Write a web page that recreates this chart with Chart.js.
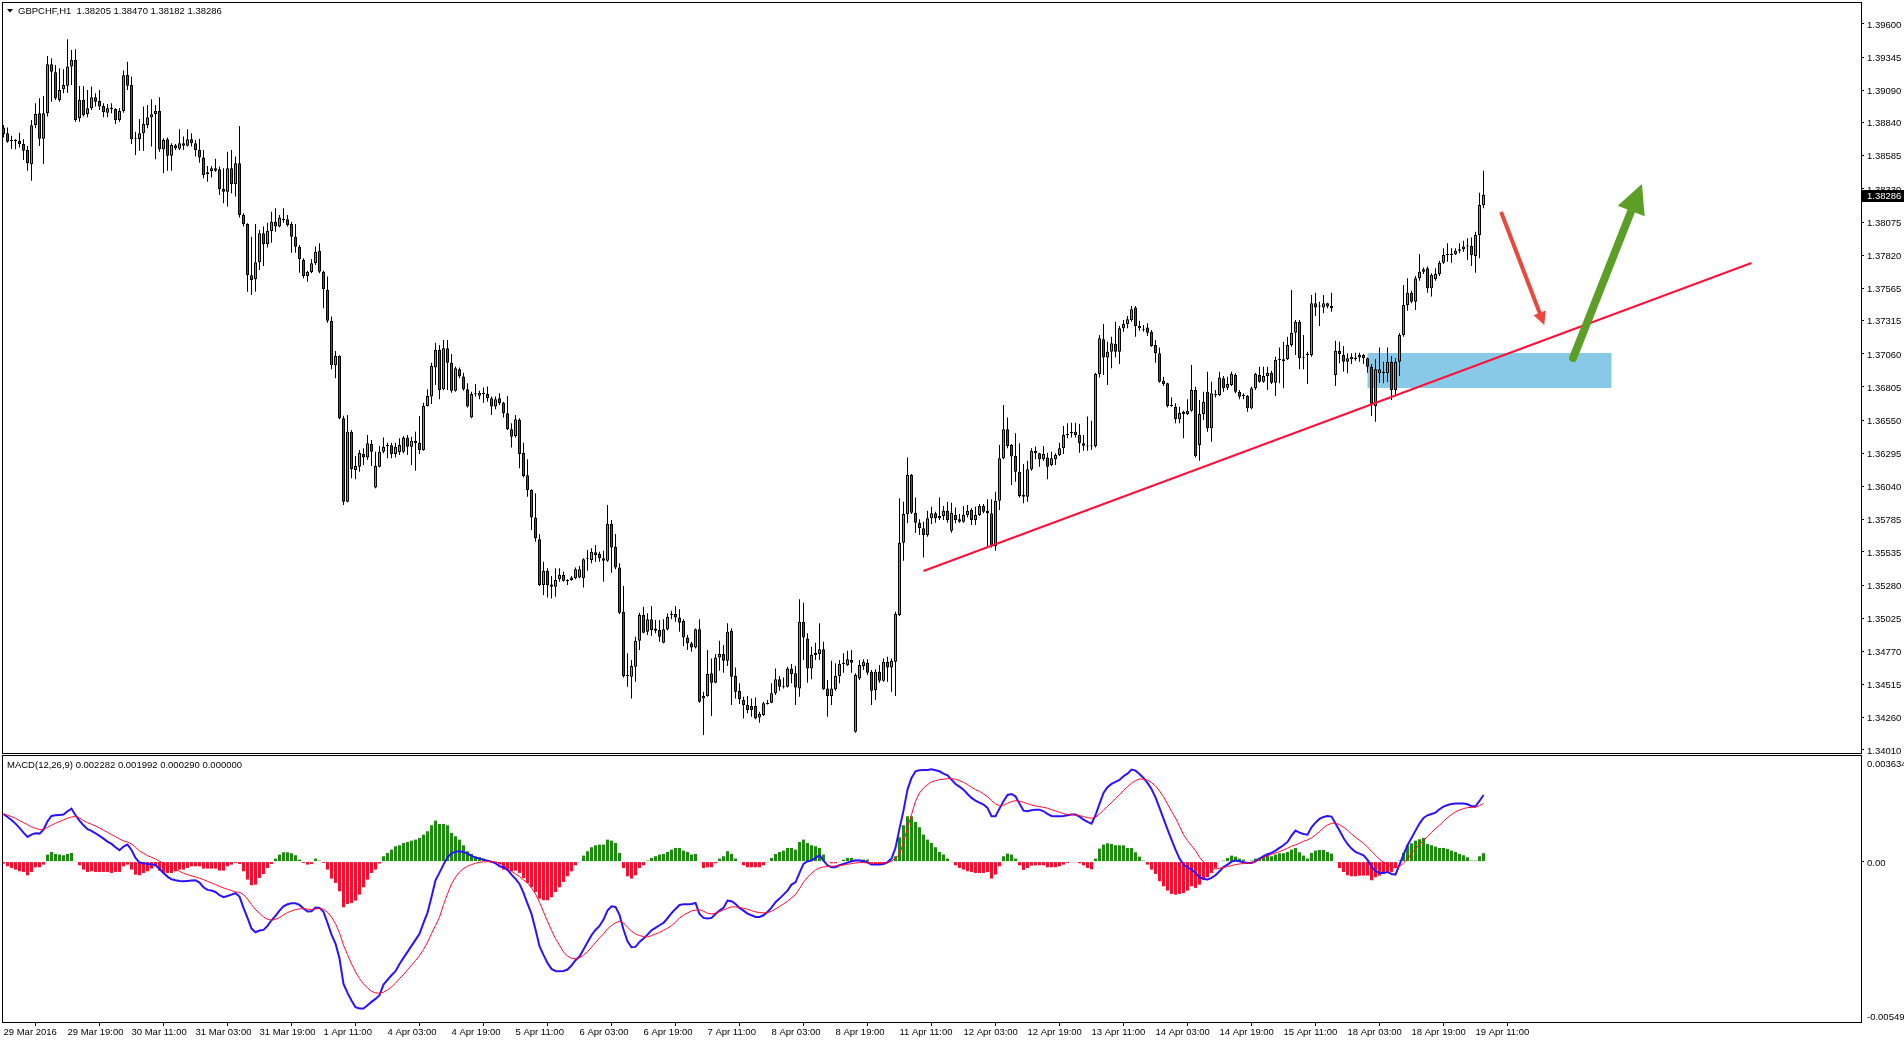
<!DOCTYPE html>
<html>
<head>
<meta charset="utf-8">
<title>GBPCHF,H1 with MACD(12,26,9)</title>
<script src="https://cdn.jsdelivr.net/npm/chart.js"></script>
<style>
  html, body { margin:0; padding:0; background:#ffffff; overflow:hidden; }
  #wrap { position:relative; width:1904px; height:1043px; background:#fff; }
  canvas { position:absolute; left:0; display:block; }
  #priceCanvas { top:0; }
  #macdCanvas { top:755px; }
</style>
</head>
<body>
<div id="wrap">
  <canvas id="priceCanvas" width="1904" height="755"></canvas>
  <canvas id="macdCanvas" width="1904" height="288"></canvas>
</div>
<script>
// ---------------- DATA ----------------
const symbol = 'GBPCHF,H1';
const macdName = 'MACD(12,26,9)';

const opens = [1.38804,1.38758,1.38702,1.38702,1.38699,1.38676,1.38630,1.38520,1.38820,1.38912,
1.38717,1.38912,1.39290,1.39228,1.39015,1.39097,1.39125,1.39272,1.39323,1.38874,
1.39015,1.38907,1.38951,1.39036,1.39007,1.38969,1.38917,1.38948,1.38946,1.38861,
1.38930,1.39207,1.39131,1.38720,1.38715,1.38758,1.38822,1.38882,1.38907,1.38930,
1.38635,1.38712,1.38586,1.38666,1.38640,1.38681,1.38663,1.38712,1.38681,1.38630,
1.38573,1.38443,1.38466,1.38489,1.38481,1.38330,1.38309,1.38489,1.38368,1.38527,
1.38129,1.38060,1.37665,1.37634,1.37765,1.37988,1.37906,1.38006,1.38078,1.38040,
1.38096,1.38096,1.38060,1.37962,1.37885,1.37783,1.37660,1.37691,1.37757,1.37855,
1.37693,1.37552,1.37316,1.36972,1.37044,1.36564,1.35922,1.36461,1.36166,1.36191,
1.36289,1.36263,1.36366,1.36032,1.36191,1.36307,1.36351,1.36356,1.36289,1.36304,
1.36307,1.36417,1.36345,1.36392,1.36376,1.36320,1.36659,1.36731,1.36956,1.37090,
1.36787,1.37103,1.36992,1.36777,1.36941,1.36885,1.36787,1.36571,1.36751,1.36738,
1.36761,1.36751,1.36718,1.36654,1.36718,1.36684,1.36602,1.36479,1.36428,1.36551,
1.36299,1.36125,1.36012,1.35801,1.35632,1.35280,1.35391,1.35285,1.35267,1.35324,
1.35357,1.35314,1.35319,1.35332,1.35339,1.35332,1.35478,1.35473,1.35532,1.35519,
1.35486,1.35468,1.35750,1.35575,1.35416,1.35075,1.34579,1.34574,1.34651,1.34851,
1.35049,1.34921,1.35016,1.34946,1.34934,1.34836,1.34939,1.35049,1.35057,1.35031,
1.35005,1.34877,1.34831,1.34800,1.34939,1.34407,1.34425,1.34600,1.34528,1.34723,
1.34749,1.34697,1.34929,1.34579,1.34466,1.34395,1.34356,1.34348,1.34348,1.34261,
1.34279,1.34364,1.34374,1.34446,1.34554,1.34497,1.34497,1.34638,1.34600,1.34484,
1.34998,1.34869,1.34638,1.34741,1.34749,1.34785,1.34484,1.34425,1.34477,1.34579,
1.34672,1.34664,1.34703,1.34151,1.34561,1.34656,1.34682,1.34613,1.34472,1.34613,
1.34543,1.34690,1.34646,1.34690,1.35049,1.35606,1.35827,1.36127,1.35837,1.35760,
1.35717,1.35665,1.35794,1.35832,1.35794,1.35812,1.35853,1.35699,1.35819,1.35786,
1.35768,1.35819,1.35858,1.35781,1.35819,1.35889,1.35853,1.35832,1.35581,1.35930,
1.36256,1.36479,1.36358,1.36274,1.36153,1.35973,1.35960,1.36171,1.36315,1.36294,
1.36248,1.36263,1.36204,1.36248,1.36281,1.36333,1.36435,1.36448,1.36461,1.36435,
1.36371,1.36353,1.36346,1.36351,1.36905,1.37172,1.37033,1.37077,1.37136,1.37077,
1.37257,1.37290,1.37321,1.37418,1.37275,1.37249,1.37264,1.37231,1.37128,1.37064,
1.36854,1.36833,1.36666,1.36653,1.36556,1.36615,1.36597,1.36623,1.36782,1.36358,
1.36597,1.36769,1.36487,1.36743,1.36743,1.36872,1.36800,1.36820,1.36897,1.36769,
1.36736,1.36736,1.36641,1.36795,1.36897,1.36846,1.36890,1.36915,1.36838,1.37013,
1.37003,1.37018,1.37128,1.37223,1.37308,1.37033,1.37051,1.37051,1.37449,1.37424,
1.37418,1.37449,1.37429,1.36897,1.37085,1.37051,1.37000,1.37018,1.37018,1.37033,
1.37051,1.37026,1.36961,1.36659,1.36910,1.36910,1.36910,1.37000,1.36782,1.37000,
1.37205,1.37436,1.37531,1.37462,1.37642,1.37693,1.37719,1.37565,1.37634,1.37675,
1.37762,1.37821,1.37821,1.37827,1.37855,1.37865,1.37886,1.37891,1.37814,1.37975,
1.38205];

const highs = [1.38822,1.38804,1.38740,1.38712,1.38763,1.38712,1.38661,1.38861,1.38989,1.39028,
1.39046,1.39354,1.39336,1.39285,1.39259,1.39251,1.39482,1.39400,1.39405,1.39123,
1.39123,1.39092,1.39118,1.39066,1.39092,1.38989,1.38984,1.38989,1.38951,1.38951,
1.39241,1.39310,1.39195,1.38771,1.38869,1.38964,1.38976,1.39020,1.38976,1.39036,
1.38720,1.38727,1.38681,1.38676,1.38789,1.38733,1.38789,1.38758,1.38707,1.38717,
1.38630,1.38507,1.38507,1.38563,1.38502,1.38489,1.38617,1.38630,1.38579,1.38815,
1.38142,1.38065,1.37962,1.38060,1.38014,1.38040,1.38070,1.38155,1.38181,1.38129,
1.38181,1.38129,1.38078,1.38060,1.37898,1.37796,1.37701,1.37788,1.37886,1.37911,
1.37701,1.37655,1.37347,1.37082,1.37049,1.36584,1.36589,1.36474,1.36274,1.36320,
1.36333,1.36435,1.36397,1.36307,1.36351,1.36417,1.36376,1.36376,1.36376,1.36410,
1.36428,1.36435,1.36422,1.36461,1.36582,1.36684,1.36787,1.36992,1.37146,1.37128,
1.37167,1.37167,1.37059,1.36962,1.36956,1.36915,1.36833,1.36769,1.36828,1.36777,
1.36802,1.36808,1.36731,1.36731,1.36756,1.36692,1.36736,1.36525,1.36589,1.36564,
1.36376,1.36248,1.36017,1.35986,1.35673,1.35460,1.35409,1.35349,1.35409,1.35409,
1.35383,1.35324,1.35349,1.35416,1.35426,1.35486,1.35550,1.35563,1.35588,1.35537,
1.35545,1.35896,1.35781,1.35673,1.35447,1.35272,1.34754,1.34703,1.34882,1.35067,
1.35113,1.35062,1.35118,1.35011,1.35011,1.35016,1.35062,1.35082,1.35118,1.35093,
1.35016,1.34895,1.34844,1.34946,1.35016,1.34459,1.34780,1.34715,1.34749,1.34852,
1.34818,1.34985,1.34947,1.34646,1.34523,1.34420,1.34425,1.34407,1.34415,1.34305,
1.34382,1.34395,1.34523,1.34638,1.34579,1.34569,1.34651,1.34672,1.34656,1.35170,
1.35144,1.34908,1.34805,1.34836,1.34985,1.34844,1.34549,1.34697,1.34677,1.34703,
1.34754,1.34775,1.34780,1.34600,1.34703,1.34708,1.34708,1.34626,1.34631,1.34664,
1.34715,1.34728,1.34715,1.35075,1.35948,1.35922,1.36263,1.36135,1.35955,1.35786,
1.35768,1.35853,1.35883,1.35845,1.35955,1.35889,1.35922,1.35914,1.35878,1.35827,
1.35889,1.35896,1.35871,1.35883,1.35904,1.35904,1.35940,1.35940,1.35999,1.36358,
1.36666,1.36571,1.36366,1.36448,1.36371,1.36212,1.36238,1.36333,1.36346,1.36299,
1.36351,1.36299,1.36307,1.36294,1.36376,1.36505,1.36525,1.36530,1.36530,1.36520,
1.36435,1.36577,1.36546,1.36915,1.37205,1.37290,1.37154,1.37192,1.37308,1.37275,
1.37321,1.37352,1.37429,1.37429,1.37316,1.37282,1.37295,1.37244,1.37167,1.37110,
1.36884,1.36838,1.36725,1.36679,1.36653,1.36623,1.36710,1.36974,1.36807,1.36705,
1.36769,1.36923,1.36846,1.36782,1.36923,1.36890,1.36884,1.36923,1.36910,1.36782,
1.36756,1.36743,1.36807,1.36915,1.36961,1.36961,1.36961,1.36931,1.37038,1.37110,
1.37154,1.37192,1.37552,1.37321,1.37321,1.37205,1.37077,1.37513,1.37531,1.37462,
1.37513,1.37454,1.37531,1.37162,1.37154,1.37121,1.37064,1.37064,1.37069,1.37069,
1.37059,1.37033,1.36982,1.37018,1.37110,1.37000,1.37110,1.37044,1.37026,1.37218,
1.37590,1.37642,1.37547,1.37660,1.37829,1.37726,1.37732,1.37680,1.37719,1.37778,
1.37873,1.37911,1.37873,1.37873,1.37911,1.37932,1.37950,1.37957,1.38001,1.38301,
1.38470];

const lows = [1.38727,1.38686,1.38638,1.38635,1.38650,1.38553,1.38471,1.38394,1.38797,1.38661,
1.38522,1.38887,1.39002,1.39015,1.39002,1.39066,1.39071,1.39131,1.38848,1.38848,
1.38887,1.38882,1.38938,1.38964,1.38938,1.38882,1.38882,1.38912,1.38830,1.38848,
1.38917,1.39092,1.38676,1.38591,1.38625,1.38622,1.38797,1.38656,1.38558,1.38617,
1.38450,1.38471,1.38471,1.38630,1.38630,1.38630,1.38656,1.38656,1.38579,1.38532,
1.38412,1.38386,1.38419,1.38463,1.38283,1.38219,1.38194,1.38296,1.38271,1.38111,
1.38040,1.37539,1.37513,1.37539,1.37706,1.37737,1.37880,1.37916,1.38001,1.38035,
1.38070,1.38040,1.37839,1.37839,1.37685,1.37642,1.37616,1.37680,1.37744,1.37680,
1.37411,1.37300,1.36941,1.36872,1.36556,1.35896,1.35917,1.36102,1.36094,1.36153,
1.36204,1.36243,1.36197,1.36025,1.36186,1.36294,1.36256,1.36256,1.36263,1.36281,
1.36294,1.36281,1.36204,1.36161,1.36289,1.36315,1.36654,1.36674,1.36820,1.36710,
1.36780,1.36782,1.36761,1.36769,1.36872,1.36777,1.36648,1.36565,1.36731,1.36710,
1.36684,1.36692,1.36589,1.36633,1.36666,1.36571,1.36474,1.36340,1.36417,1.36179,
1.36109,1.35960,1.35704,1.35614,1.35272,1.35203,1.35185,1.35177,1.35190,1.35306,
1.35306,1.35280,1.35314,1.35324,1.35332,1.35262,1.35391,1.35447,1.35460,1.35460,
1.35306,1.35460,1.35375,1.35401,1.35057,1.34569,1.34497,1.34407,1.34536,1.34780,
1.34908,1.34895,1.34887,1.34908,1.34844,1.34831,1.34930,1.35016,1.34998,1.34921,
1.34810,1.34780,1.34767,1.34792,1.34374,1.34125,1.34420,1.34271,1.34523,1.34620,
1.34605,1.34656,1.34356,1.34407,1.34364,1.34253,1.34292,1.34266,1.34246,1.34220,
1.34271,1.34360,1.34369,1.34433,1.34466,1.34484,1.34492,1.34523,1.34356,1.34420,
1.34703,1.34528,1.34554,1.34703,1.34703,1.34472,1.34266,1.34356,1.34466,1.34523,
1.34605,1.34656,1.34605,1.34143,1.34549,1.34626,1.34587,1.34356,1.34395,1.34528,
1.34536,1.34536,1.34459,1.34425,1.35042,1.35468,1.35755,1.35827,1.35683,1.35665,
1.35493,1.35652,1.35750,1.35760,1.35781,1.35781,1.35760,1.35683,1.35755,1.35760,
1.35760,1.35801,1.35742,1.35742,1.35812,1.35832,1.35575,1.35570,1.35545,1.35858,
1.36248,1.36333,1.36050,1.36076,1.35955,1.35909,1.35922,1.36161,1.36248,1.36191,
1.36238,1.36094,1.36197,1.36204,1.36274,1.36289,1.36410,1.36417,1.36417,1.36299,
1.36315,1.36315,1.36320,1.36340,1.36879,1.36897,1.36820,1.36949,1.37033,1.36982,
1.37231,1.37257,1.37308,1.37192,1.37239,1.37231,1.37198,1.37115,1.36992,1.36838,
1.36813,1.36648,1.36653,1.36525,1.36525,1.36410,1.36589,1.36615,1.36263,1.36238,
1.36551,1.36461,1.36384,1.36725,1.36736,1.36769,1.36782,1.36813,1.36756,1.36710,
1.36710,1.36615,1.36633,1.36782,1.36838,1.36838,1.36782,1.36828,1.36736,1.36833,
1.36795,1.37013,1.37115,1.37051,1.36941,1.36941,1.36828,1.37038,1.37352,1.37275,
1.37372,1.37411,1.37385,1.36813,1.36987,1.36923,1.36910,1.36982,1.37008,1.37000,
1.36982,1.36915,1.36582,1.36538,1.36838,1.36833,1.36846,1.36705,1.36743,1.36890,
1.37192,1.37393,1.37449,1.37398,1.37624,1.37675,1.37531,1.37501,1.37624,1.37660,
1.37752,1.37770,1.37762,1.37821,1.37834,1.37847,1.37783,1.37737,1.37685,1.37796,
1.38182];

const closes = [1.38753,1.38694,1.38699,1.38699,1.38676,1.38625,1.38527,1.38820,1.38907,1.38717,
1.38912,1.39290,1.39233,1.39028,1.39092,1.39131,1.39272,1.39323,1.38861,1.39015,
1.38897,1.38951,1.39036,1.39002,1.38964,1.38920,1.38951,1.38946,1.38861,1.38930,
1.39205,1.39125,1.38712,1.38712,1.38758,1.38830,1.38882,1.38905,1.38933,1.38635,
1.38707,1.38586,1.38668,1.38643,1.38681,1.38663,1.38712,1.38681,1.38630,1.38573,
1.38437,1.38458,1.38489,1.38471,1.38327,1.38309,1.38489,1.38368,1.38527,1.38129,
1.38060,1.37665,1.37629,1.37765,1.37988,1.37906,1.38009,1.38078,1.38040,1.38111,
1.38091,1.38052,1.37962,1.37885,1.37788,1.37660,1.37691,1.37757,1.37847,1.37693,
1.37557,1.37316,1.36972,1.37044,1.36564,1.35922,1.36461,1.36171,1.36197,1.36299,
1.36263,1.36371,1.36307,1.36197,1.36307,1.36345,1.36352,1.36289,1.36345,1.36358,
1.36417,1.36345,1.36392,1.36371,1.36320,1.36659,1.36736,1.36967,1.37090,1.36782,
1.37103,1.36992,1.36777,1.36949,1.36885,1.36787,1.36654,1.36751,1.36750,1.36761,
1.36751,1.36718,1.36654,1.36710,1.36679,1.36602,1.36479,1.36422,1.36556,1.36289,
1.36120,1.36012,1.35801,1.35640,1.35280,1.35391,1.35280,1.35267,1.35319,1.35357,
1.35314,1.35312,1.35339,1.35401,1.35401,1.35478,1.35480,1.35537,1.35511,1.35486,
1.35468,1.35750,1.35570,1.35416,1.35067,1.34579,1.34582,1.34656,1.34851,1.35049,
1.34913,1.35016,1.34934,1.34928,1.34882,1.34939,1.35036,1.35052,1.35031,1.34990,
1.34877,1.34831,1.34800,1.34939,1.34382,1.34425,1.34595,1.34528,1.34723,1.34749,
1.34697,1.34921,1.34574,1.34459,1.34400,1.34356,1.34318,1.34318,1.34253,1.34287,
1.34369,1.34374,1.34446,1.34554,1.34497,1.34500,1.34638,1.34595,1.34492,1.34998,
1.34877,1.34638,1.34741,1.34759,1.34785,1.34477,1.34425,1.34484,1.34579,1.34672,
1.34677,1.34708,1.34682,1.34587,1.34664,1.34690,1.34605,1.34466,1.34613,1.34543,
1.34690,1.34646,1.34697,1.35057,1.35606,1.35827,1.36127,1.35837,1.35760,1.35717,
1.35665,1.35794,1.35832,1.35794,1.35812,1.35853,1.35781,1.35837,1.35781,1.35768,
1.35819,1.35853,1.35781,1.35819,1.35889,1.35845,1.35832,1.35581,1.35930,1.36256,
1.36479,1.36351,1.36269,1.36153,1.35966,1.35960,1.36171,1.36315,1.36294,1.36248,
1.36289,1.36191,1.36256,1.36281,1.36333,1.36435,1.36443,1.36461,1.36435,1.36371,
1.36353,1.36346,1.36351,1.36905,1.37180,1.37033,1.37077,1.37141,1.37077,1.37257,
1.37290,1.37326,1.37403,1.37275,1.37257,1.37246,1.37223,1.37121,1.37064,1.36846,
1.36828,1.36659,1.36659,1.36556,1.36607,1.36597,1.36623,1.36782,1.36274,1.36597,
1.36692,1.36487,1.36756,1.36751,1.36879,1.36795,1.36828,1.36905,1.36769,1.36730,
1.36737,1.36641,1.36795,1.36905,1.36846,1.36890,1.36915,1.36838,1.37013,1.37014,
1.37018,1.37128,1.37223,1.37308,1.37026,1.37026,1.37052,1.37449,1.37418,1.37425,
1.37449,1.37424,1.37411,1.37085,1.37059,1.37000,1.37026,1.37038,1.37033,1.37051,
1.37026,1.36961,1.36666,1.36941,1.36941,1.36923,1.37000,1.36782,1.37000,1.37205,
1.37436,1.37531,1.37462,1.37642,1.37693,1.37711,1.37565,1.37667,1.37675,1.37762,
1.37821,1.37822,1.37827,1.37855,1.37865,1.37886,1.37891,1.37821,1.37975,1.38206,
1.38286];

const macdMain = [0.001632,0.001529,0.001427,0.001301,0.001153,0.000993,0.000845,0.000924,0.000970,0.000959,
0.001096,0.001381,0.001564,0.001586,0.001598,0.001609,0.001723,0.001815,0.001586,0.001404,
0.001244,0.001107,0.001050,0.000970,0.000879,0.000788,0.000685,0.000605,0.000491,0.000388,
0.000514,0.000582,0.000399,0.000126,-0.000034,-0.000057,-0.000080,-0.000091,-0.000114,-0.000251,
-0.000388,-0.000514,-0.000605,-0.000639,-0.000662,-0.000673,-0.000662,-0.000651,-0.000639,-0.000719,
-0.000879,-0.000970,-0.000993,-0.001039,-0.001153,-0.001221,-0.001176,-0.001130,-0.001084,-0.001198,
-0.001586,-0.001929,-0.002294,-0.002420,-0.002363,-0.002340,-0.002203,-0.002009,-0.001860,-0.001678,
-0.001529,-0.001461,-0.001427,-0.001427,-0.001484,-0.001609,-0.001712,-0.001701,-0.001575,-0.001586,
-0.001723,-0.002100,-0.002500,-0.002808,-0.003321,-0.004189,-0.004497,-0.004759,-0.004988,-0.005033,
-0.005033,-0.004919,-0.004805,-0.004702,-0.004577,-0.004212,-0.004052,-0.003892,-0.003755,-0.003504,
-0.003298,-0.003093,-0.002888,-0.002682,-0.002477,-0.002100,-0.001746,-0.001210,-0.000639,-0.000377,
-0.000103,0.000148,0.000285,0.000342,0.000354,0.000331,0.000274,0.000194,0.000137,0.000103,
0.000068,0.000034,0,-0.000057,-0.000160,
-0.000194,-0.000274,-0.000445,-0.000594,-0.000765,
-0.001073,-0.001438,-0.001792,-0.002328,-0.002899,-0.003196,-0.003470,-0.003675,-0.003744,-0.003755,
-0.003744,-0.003698,-0.003561,-0.003378,-0.003253,-0.003013,-0.002762,-0.002522,-0.002340,-0.002203,
-0.001986,-0.001678,-0.001529,-0.001552,-0.001826,-0.002328,-0.002728,-0.002933,-0.002922,-0.002751,
-0.002637,-0.002500,-0.002351,-0.002271,-0.002180,-0.002100,-0.001940,-0.001769,-0.001621,-0.001484,
-0.001461,-0.001461,-0.001450,-0.001415,-0.001792,-0.001929,-0.001952,-0.001929,-0.001792,-0.001678,
-0.001586,-0.001335,-0.001358,-0.001450,-0.001586,-0.001678,-0.001781,-0.001838,-0.001895,-0.001895,
-0.001838,-0.001723,-0.001575,-0.001392,-0.001267,-0.001130,-0.000993,-0.000788,-0.000708,-0.000388,
-0.000080,0.000011,0.000034,0.000126,0.000217,0.000034,-0.000126,-0.000194,-0.000194,-0.000126,
-0.000080,-0.000034,0.000011,0.000034,0.000034,0.000011,-0.000023,-0.000103,-0.000103,-0.000103,
-0.000080,-0.000023,0.000103,0.000468,0.001130,0.001746,0.002465,0.002865,0.003093,0.003127,
0.003139,0.003139,0.003162,0.003127,0.003093,0.003013,0.002956,0.002808,0.002659,0.002568,
0.002465,0.002317,0.002180,0.002089,0.002020,0.001952,0.001838,0.001552,0.001552,0.001815,
0.002066,0.002283,0.002317,0.002237,0.001986,0.001746,0.001723,0.001758,0.001780,0.001780,
0.001723,0.001632,0.001564,0.001552,0.001552,0.001564,0.001586,0.001609,0.001609,0.001541,
0.001438,0.001358,0.001301,0.001586,0.001975,0.002351,0.002545,0.002659,0.002728,0.002796,
0.002922,0.003013,0.003150,0.003116,0.003002,0.002865,0.002694,0.002488,0.002203,0.001838,
0.001472,0.001107,0.000753,0.000411,0.000103,-0.000103,-0.000194,-0.000274,-0.000388,-0.000536,
-0.000594,-0.000616,-0.000559,-0.000468,-0.000331,-0.000183,-0.000103,0,0.000034,0.000011,
-0.000023,-0.000046,-0.000046,0.000011,0.000103,0.000183,0.000251,0.000297,0.000377,0.000468,
0.000559,0.000673,0.000890,0.001061,0.000993,0.000947,0.000924,0.001176,0.001335,0.001461,
0.001529,0.001564,0.001541,0.001301,0.001061,0.000810,0.000605,0.000445,0.000331,0.000274,
0.000217,0.000057,-0.000171,-0.000331,-0.000388,-0.000388,-0.000354,-0.000422,-0.000445,-0.000103,
0.000240,0.000559,0.000810,0.001061,0.001301,0.001495,0.001586,0.001632,0.001678,0.001792,
0.001883,0.001940,0.001975,0.001986,0.001986,0.001986,0.001963,0.001895,0.001895,0.002077,
0.002282];

const macdSignal = [0.001632,0.001586,0.001541,0.001484,0.001404,0.001335,0.001267,0.001187,0.001141,0.001096,
0.001107,0.001176,0.001244,0.001313,0.001370,0.001427,0.001484,0.001529,0.001541,0.001495,
0.001404,0.001335,0.001278,0.001221,0.001153,0.001073,0.001004,0.000924,0.000856,0.000776,
0.000708,0.000673,0.000605,0.000491,0.000365,0.000285,0.000205,0.000148,0.000091,0.000011,
-0.000057,-0.000126,-0.000194,-0.000263,-0.000331,-0.000399,-0.000445,-0.000491,-0.000525,-0.000571,
-0.000616,-0.000673,-0.000730,-0.000788,-0.000845,-0.000902,-0.000947,-0.000993,-0.001039,-0.001050,
-0.001130,-0.001278,-0.001472,-0.001644,-0.001769,-0.001895,-0.001975,-0.002009,-0.001975,-0.001917,
-0.001826,-0.001746,-0.001689,-0.001644,-0.001621,-0.001609,-0.001632,-0.001644,-0.001621,-0.001609,
-0.001632,-0.001735,-0.001895,-0.002123,-0.002442,-0.002865,-0.003184,-0.003504,-0.003778,-0.004006,
-0.004189,-0.004326,-0.004440,-0.004497,-0.004508,-0.004474,-0.004394,-0.004291,-0.004166,-0.004006,
-0.003869,-0.003709,-0.003550,-0.003390,-0.003219,-0.003013,-0.002762,-0.002465,-0.002191,-0.001906,
-0.001472,-0.001107,-0.000765,-0.000536,-0.000354,-0.000240,-0.000160,-0.000103,-0.000057,-0.000023,
-0.000011,0,0,-0.000011,-0.000046,
-0.000103,-0.000240,-0.000331,-0.000422,-0.000514,
-0.000628,-0.000730,-0.000902,-0.001107,-0.001392,-0.001723,-0.002043,-0.002351,-0.002637,-0.002865,
-0.003093,-0.003241,-0.003310,-0.003321,-0.003298,-0.003207,-0.003093,-0.002933,-0.002773,-0.002614,
-0.002477,-0.002306,-0.002191,-0.002100,-0.002043,-0.002100,-0.002248,-0.002385,-0.002477,-0.002534,
-0.002568,-0.002579,-0.002534,-0.002477,-0.002431,-0.002351,-0.002283,-0.002191,-0.002077,-0.001929,
-0.001838,-0.001758,-0.001689,-0.001666,-0.001644,-0.001701,-0.001769,-0.001792,-0.001769,-0.001712,
-0.001655,-0.001598,-0.001552,-0.001552,-0.001575,-0.001598,-0.001632,-0.001678,-0.001723,-0.001746,
-0.001758,-0.001746,-0.001701,-0.001621,-0.001541,-0.001450,-0.001358,-0.001244,-0.001130,-0.000924,
-0.000708,-0.000536,-0.000399,-0.000285,-0.000217,-0.000183,-0.000171,-0.000160,-0.000148,-0.000137,
-0.000114,-0.000091,-0.000068,-0.000046,-0.000034,-0.000034,-0.000046,-0.000057,-0.000068,-0.000057,
-0.000046,-0.000034,0.000011,0.000126,0.000240,0.000673,0.001153,0.001609,0.002066,0.002351,
0.002522,0.002637,0.002728,0.002773,0.002808,0.002819,0.002842,0.002842,0.002819,0.002773,
0.002716,0.002637,0.002545,0.002465,0.002408,0.002317,0.002226,0.002089,0.001975,0.001917,
0.001929,0.001997,0.002054,0.002089,0.002066,0.002032,0.001986,0.001940,0.001906,0.001883,
0.001860,0.001826,0.001780,0.001735,0.001689,0.001644,0.001609,0.001609,0.001598,0.001575,
0.001541,0.001507,0.001484,0.001518,0.001632,0.001758,0.001895,0.002020,0.002157,0.002294,
0.002431,0.002568,0.002682,0.002773,0.002831,0.002819,0.002796,0.002705,0.002591,0.002420,
0.002226,0.001975,0.001723,0.001495,0.001210,0.000924,0.000719,0.000548,0.000377,0.000148,
-0.000011,-0.000137,-0.000217,-0.000251,-0.000228,-0.000205,-0.000171,-0.000137,-0.000103,-0.000080,
-0.000068,-0.000057,-0.000046,0,0.000068,0.000137,0.000194,0.000251,0.000297,0.000342,
0.000399,0.000457,0.000525,0.000571,0.000628,0.000696,0.000742,0.000810,0.000913,0.001027,
0.001153,0.001255,0.001313,0.001313,0.001267,0.001176,0.001073,0.000947,0.000833,0.000730,
0.000628,0.000502,0.000354,0.000217,0.000080,-0.000023,-0.000103,-0.000171,-0.000217,-0.000171,
-0.000057,0.000091,0.000285,0.000445,0.000582,0.000719,0.000856,0.000993,0.001130,0.001244,
0.001381,0.001507,0.001609,0.001701,0.001769,0.001815,0.001849,0.001860,0.001860,0.001917,
0.001992];

const macdHist = [-0.000068,-0.000160,-0.000217,-0.000274,-0.000331,-0.000354,-0.000468,-0.000354,-0.000194,-0.000194,
-0.000103,0.000240,0.000331,0.000263,0.000240,0.000217,0.000263,0.000297,0.000023,-0.000126,
-0.000274,-0.000354,-0.000331,-0.000354,-0.000354,-0.000354,-0.000354,-0.000388,-0.000354,-0.000354,
-0.000160,-0.000103,-0.000274,-0.000445,-0.000468,-0.000388,-0.000331,-0.000240,-0.000160,-0.000308,
-0.000388,-0.000388,-0.000388,-0.000331,-0.000274,-0.000274,-0.000217,-0.000160,-0.000160,-0.000160,
-0.000240,-0.000240,-0.000240,-0.000240,-0.000308,-0.000308,-0.000160,-0.000103,-0.000046,-0.000080,
-0.000331,-0.000616,-0.000810,-0.000788,-0.000559,-0.000422,-0.000217,-0.000080,0.000103,0.000240,
0.000320,0.000320,0.000285,0.000217,0.000068,-0.000046,-0.000103,-0.000080,0.000103,0.000034,
-0.000046,-0.000274,-0.000582,-0.000730,-0.001016,-0.001564,-0.001450,-0.001415,-0.001335,-0.001130,
-0.000879,-0.000616,-0.000388,-0.000274,-0.000068,0.000183,0.000297,0.000411,0.000525,0.000559,
0.000639,0.000673,0.000719,0.000753,0.000810,0.000924,0.001039,0.001244,0.001404,0.001290,
0.001290,0.001244,0.000982,0.000867,0.000753,0.000559,0.000354,0.000263,0.000183,0.000148,
0.000103,0.000034,-0.000046,-0.000080,-0.000103,
-0.000274,-0.000308,-0.000331,-0.000308,-0.000388,
-0.000559,-0.000730,-0.000879,-0.001039,-0.001267,-0.001324,-0.001324,-0.001221,-0.001039,-0.000879,
-0.000696,-0.000502,-0.000331,-0.000126,-0.000011,0.000205,0.000354,0.000491,0.000559,0.000582,
0.000582,0.000753,0.000719,0.000639,0.000297,-0.000217,-0.000502,-0.000582,-0.000468,-0.000217,
-0.000126,0.000034,0.000126,0.000183,0.000240,0.000263,0.000331,0.000411,0.000468,0.000468,
0.000377,0.000331,0.000240,0.000263,-0.000011,-0.000217,-0.000194,-0.000194,-0.000057,0.000103,
0.000183,0.000354,0.000263,0.000103,-0.000011,-0.000126,-0.000194,-0.000194,-0.000194,-0.000194,
-0.000126,-0.000011,0.000126,0.000263,0.000331,0.000377,0.000468,0.000468,0.000411,0.000673,
0.000753,0.000639,0.000559,0.000525,0.000468,0.000240,0.000011,-0.000057,-0.000057,0.000011,
0.000068,0.000126,0.000126,0.000068,0.000068,0.000068,0.000068,-0.000046,-0.000080,-0.000080,
-0.000080,-0.000034,0.000034,0.000183,0.000833,0.001244,0.001552,0.001552,0.001358,0.001176,
0.000924,0.000753,0.000639,0.000491,0.000331,0.000240,0.000103,0.000011,-0.000126,-0.000217,
-0.000274,-0.000331,-0.000354,-0.000388,-0.000388,-0.000388,-0.000354,-0.000582,-0.000445,-0.000160,
0.000183,0.000274,0.000240,0.000103,-0.000126,-0.000285,-0.000217,-0.000137,-0.000126,-0.000126,
-0.000126,-0.000194,-0.000194,-0.000194,-0.000160,-0.000103,-0.000046,-0.000023,-0.000023,-0.000057,
-0.000126,-0.000217,-0.000263,0.000103,0.000445,0.000582,0.000628,0.000605,0.000559,0.000559,
0.000559,0.000468,0.000468,0.000320,0.000171,0.000034,-0.000103,-0.000274,-0.000422,-0.000673,
-0.000845,-0.000993,-0.001107,-0.001130,-0.001107,-0.001073,-0.000993,-0.000845,-0.000902,-0.000788,
-0.000616,-0.000536,-0.000388,-0.000217,0.000011,0.000034,0.000126,0.000205,0.000171,0.000103,
0.000068,-0.000011,0.000034,0.000103,0.000126,0.000183,0.000217,0.000183,0.000240,0.000285,
0.000285,0.000331,0.000411,0.000468,0.000320,0.000205,0.000103,0.000297,0.000377,0.000399,
0.000399,0.000331,0.000274,-0.000011,-0.000217,-0.000354,-0.000468,-0.000502,-0.000502,-0.000479,
-0.000479,-0.000479,-0.000639,-0.000536,-0.000479,-0.000422,-0.000388,-0.000354,-0.000217,0.000034,
0.000297,0.000559,0.000628,0.000719,0.000765,0.000810,0.000605,0.000559,0.000514,0.000468,
0.000468,0.000434,0.000377,0.000331,0.000263,0.000217,0.000148,0.000034,0.000034,0.000183,
0.000290];

const timeLabels = ['29 Mar 2016','29 Mar 19:00','30 Mar 11:00','31 Mar 03:00','31 Mar 19:00','1 Apr 11:00',
'4 Apr 03:00','4 Apr 19:00','5 Apr 11:00','6 Apr 03:00','6 Apr 19:00','7 Apr 11:00','8 Apr 03:00',
'8 Apr 19:00','11 Apr 11:00','12 Apr 03:00','12 Apr 19:00','13 Apr 11:00','14 Apr 03:00','14 Apr 19:00',
'15 Apr 11:00','18 Apr 03:00','18 Apr 19:00','19 Apr 11:00'];
const timeLabelBars = [0,16,32,48,64,80,96,112,128,144,160,176,192,208,224,240,256,272,288,304,320,336,352,368];

const priceTicks = [1.39600,1.39345,1.39090,1.38840,1.38585,1.38330,1.38075,1.37820,1.37565,1.37315,1.37060,
1.36805,1.36550,1.36295,1.36040,1.35785,1.35535,1.35280,1.35025,1.34770,1.34515,1.34260,1.34010];
const macdTickValues = [0.003634, 0, -0.005491];
const macdTickTexts = ['0.003634', '0.00', '-0.005491'];

// drawn objects (bar index, price)
const trendLine = [{x:230, y:1.35388}, {x:437, y:1.37760}];
const zone = {from:341, to:402, top:1.37067, bottom:1.36797};
const arrowDown = {x0:374.4, y0:1.38152, x1:385.2, y1:1.37282};
const arrowUp = {x0:392.4, y0:1.37028, x1:409.6, y1:1.38368};

// ---------------- STYLE ----------------
const FONT = '"Liberation Sans", Arial, sans-serif';
const FONT_SIZE = 9.5;
Chart.defaults.font.family = FONT;
Chart.defaults.font.size = FONT_SIZE;
Chart.defaults.color = '#000';
Chart.defaults.animation = false;

const X_MIN = -0.375, X_MAX = 464.375;
const PRICE_MIN = 1.3398686, PRICE_MAX = 1.3976939;
const MACD_MIN = -0.005528, MACD_MAX = 0.003651;
const AXIS_W = 43;

const BULL = '#3cc83c', BEAR = '#d61434', WICK = '#000000';
const HIST_UP = '#1f8a10', HIST_DN = '#ff0a2c';
const MACD_BLUE = '#2b12ff', SIGNAL_RED = '#ff0a30';
const TREND_RED = '#ff1038', ZONE_BLUE = '#89c9e8';
const ARROW_RED = '#e8483e', ARROW_GREEN = '#5c9e26';

function noPad(axis) { axis.paddingTop = 0; axis.paddingBottom = 0; axis.paddingLeft = 0; axis.paddingRight = 0; }
const fmt5 = v => v.toFixed(5);
const fmt6 = v => v.toFixed(6);
const last = closes.length - 1;

function drawArrow(ctx, x0, y0, x1, y1, shaft, headLen, headW, color, roundTail) {
  const ang = Math.atan2(y1 - y0, x1 - x0);
  const c = Math.cos(ang), s = Math.sin(ang);
  const bx = x1 - c * headLen, by = y1 - s * headLen;
  ctx.save();
  ctx.strokeStyle = color; ctx.fillStyle = color;
  ctx.lineWidth = shaft; ctx.lineCap = roundTail ? 'round' : 'butt';
  ctx.beginPath(); ctx.moveTo(x0, y0); ctx.lineTo(bx + c * 2, by + s * 2); ctx.stroke();
  ctx.beginPath();
  ctx.moveTo(x1, y1);
  ctx.lineTo(bx - s * headW / 2, by + c * headW / 2);
  ctx.lineTo(bx + s * headW / 2, by - c * headW / 2);
  ctx.closePath(); ctx.fill();
  ctx.restore();
}

// ---------------- PRICE CHART ----------------
const priceDecor = {
  id: 'priceDecor',
  beforeDatasetsDraw(chart) {
    const {ctx, scales: {x, y}} = chart;
    const x0 = x.getPixelForValue(zone.from), x1 = x.getPixelForValue(zone.to);
    const y0 = y.getPixelForValue(zone.top), y1 = y.getPixelForValue(zone.bottom);
    ctx.save(); ctx.fillStyle = ZONE_BLUE; ctx.fillRect(x0, y0, x1 - x0, y1 - y0); ctx.restore();
  },
  afterDatasetsDraw(chart) {
    const {ctx, scales: {x, y}} = chart;
    drawArrow(ctx, x.getPixelForValue(arrowDown.x0), y.getPixelForValue(arrowDown.y0),
      x.getPixelForValue(arrowDown.x1), y.getPixelForValue(arrowDown.y1), 4, 13, 13, ARROW_RED, false);
    drawArrow(ctx, x.getPixelForValue(arrowUp.x0), y.getPixelForValue(arrowUp.y0),
      x.getPixelForValue(arrowUp.x1), y.getPixelForValue(arrowUp.y1), 8, 29, 29, ARROW_GREEN, true);
  },
  afterDraw(chart) {
    const {ctx, chartArea: ca, scales: {y}} = chart;
    ctx.save();
    ctx.strokeStyle = '#000'; ctx.lineWidth = 1;
    ctx.strokeRect(ca.left + 0.5, ca.top + 0.5, ca.right - ca.left, ca.bottom - ca.top);
    // title
    ctx.fillStyle = '#000';
    ctx.beginPath(); ctx.moveTo(7, 9); ctx.lineTo(13, 9); ctx.lineTo(10, 12.5); ctx.closePath(); ctx.fill();
    ctx.font = FONT_SIZE + 'px ' + FONT; ctx.textBaseline = 'middle'; ctx.textAlign = 'left';
    ctx.fillText(symbol + '  ' + fmt5(opens[last]) + ' ' + fmt5(highs[last]) + ' ' + fmt5(lows[last]) + ' ' + fmt5(closes[last]), 18, 11);
    // current price marker
    const py = y.getPixelForValue(closes[last]);
    ctx.fillRect(ca.right + 1, Math.round(py) - 5, chart.width - ca.right - 1, 12);
    ctx.fillStyle = '#fff';
    ctx.fillText(fmt5(closes[last]), ca.right + 6, Math.round(py) + 1.5);
    ctx.restore();
  }
};

new Chart(document.getElementById('priceCanvas'), {
  type: 'bar',
  data: {
    datasets: [
      { type: 'line', label: 'trend', data: trendLine, borderColor: TREND_RED, borderWidth: 2,
        pointRadius: 0, tension: 0, order: 1 },
      { type: 'bar', label: 'body', data: opens.map((o, i) => ({x: i, y: [o, closes[i]]})),
        backgroundColor: c => closes[c.dataIndex] >= opens[c.dataIndex] ? BULL : BEAR,
        borderColor: '#000', borderWidth: 1, borderSkipped: false, inflateAmount: 0,
        barThickness: 3, minBarLength: 1, grouped: false, order: 2 },
      { type: 'bar', label: 'wick', data: lows.map((l, i) => ({x: i, y: [l, highs[i]]})),
        backgroundColor: WICK, borderWidth: 0, inflateAmount: 0, barThickness: 1,
        grouped: false, order: 3 }
    ]
  },
  options: {
    responsive: false, devicePixelRatio: 1, animation: false, events: [],
    layout: { padding: { left: 2, right: 0, top: 2, bottom: 2 } },
    plugins: { legend: { display: false }, tooltip: { enabled: false } },
    scales: {
      x: { type: 'linear', display: false, min: X_MIN, max: X_MAX, offset: false, bounds: 'data' },
      y: { type: 'linear', position: 'right', min: PRICE_MIN, max: PRICE_MAX, bounds: 'data',
        beginAtZero: false,
        afterBuildTicks: a => { a.ticks = priceTicks.map(v => ({value: v})); },
        afterFit: a => { a.width = AXIS_W; noPad(a); },
        ticks: { autoSkip: false, padding: 3, labelOffset: 1, callback: v => fmt5(v), font: { size: FONT_SIZE } },
        grid: { display: true, drawOnChartArea: false, drawTicks: true, tickLength: 3, color: '#000' },
        border: { display: false } }
    }
  },
  plugins: [priceDecor]
});

// ---------------- MACD CHART ----------------
const macdDecor = {
  id: 'macdDecor',
  afterDraw(chart) {
    const {ctx, chartArea: ca} = chart;
    ctx.save();
    ctx.strokeStyle = '#000'; ctx.lineWidth = 1;
    ctx.strokeRect(ca.left + 0.5, ca.top + 0.5, ca.right - ca.left, ca.bottom - ca.top - 1);
    ctx.fillStyle = '#000';
    ctx.font = FONT_SIZE + 'px ' + FONT; ctx.textBaseline = 'middle'; ctx.textAlign = 'left';
    ctx.fillText(macdName + ' ' + fmt6(macdMain[last]) + ' ' + fmt6(macdSignal[last]) + ' ' + fmt6(macdHist[last]) + ' ' + fmt6(0), 7, 10);
    ctx.restore();
  }
};

new Chart(document.getElementById('macdCanvas'), {
  type: 'bar',
  data: {
    datasets: [
      { type: 'line', label: 'Signal', data: macdSignal.map((v, i) => ({x: i, y: v})),
        borderColor: SIGNAL_RED, borderWidth: 1, pointRadius: 0, tension: 0, order: 1 },
      { type: 'line', label: 'MACD', data: macdMain.map((v, i) => ({x: i, y: v})),
        borderColor: MACD_BLUE, borderWidth: 2, pointRadius: 0, tension: 0, order: 2 },
      { type: 'bar', label: 'Histogram', data: macdHist.map((v, i) => ({x: i, y: v})),
        backgroundColor: c => macdHist[c.dataIndex] >= 0 ? HIST_UP : HIST_DN,
        borderWidth: 0, inflateAmount: 0, barThickness: 3, grouped: false, order: 3 }
    ]
  },
  options: {
    responsive: false, devicePixelRatio: 1, animation: false, events: [],
    layout: { padding: { left: 2, right: 0, top: 0, bottom: 0 } },
    plugins: { legend: { display: false }, tooltip: { enabled: false } },
    scales: {
      x: { type: 'linear', position: 'bottom', min: X_MIN, max: X_MAX, offset: false, bounds: 'data',
        afterBuildTicks: a => { a.ticks = timeLabelBars.map(v => ({value: v})); },
        afterFit: a => { a.height = 20; noPad(a); },
        ticks: { autoSkip: false, maxRotation: 0, minRotation: 0, align: 'start', padding: 1,
          callback: (v, idx) => timeLabels[idx], font: { size: FONT_SIZE } },
        grid: { display: true, drawOnChartArea: false, drawTicks: true, tickLength: 3, color: '#000' },
        border: { display: false } },
      y: { type: 'linear', position: 'right', min: MACD_MIN, max: MACD_MAX, bounds: 'data', beginAtZero: false,
        afterBuildTicks: a => {
          const nudge = 7 * (MACD_MAX - MACD_MIN) / 268;
          a.ticks = macdTickValues.map((v, k) => ({
            value: k === 0 ? v - nudge : (k === macdTickValues.length - 1 ? v + nudge : v)
          }));
        },
        afterFit: a => { a.width = AXIS_W; noPad(a); },
        ticks: { autoSkip: false, padding: 3, labelOffset: 2, callback: (v, idx) => macdTickTexts[idx], font: { size: FONT_SIZE } },
        grid: { display: true, drawOnChartArea: false, drawTicks: true, tickLength: 3,
          color: c => c.index === 1 ? '#000' : 'rgba(0,0,0,0)' },
        border: { display: false } }
    }
  },
  plugins: [macdDecor]
});
</script>
</body>
</html>
